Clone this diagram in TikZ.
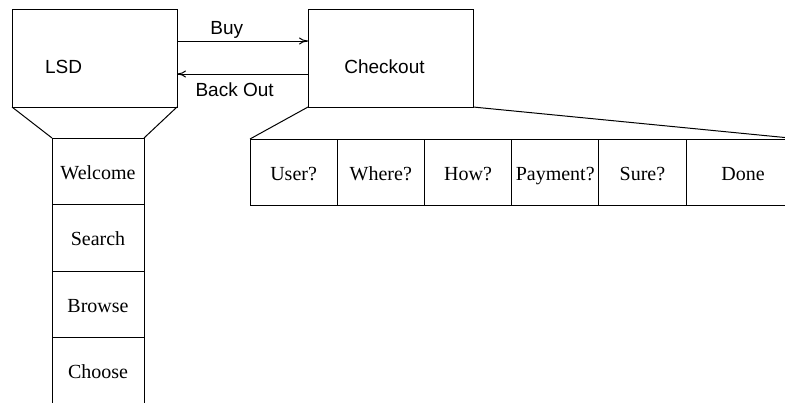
\documentclass[tikz,border=0pt]{standalone}
\usepackage{fontspec}
\setmainfont{Liberation Serif}
\setsansfont{Liberation Sans}
\usetikzlibrary{arrows.meta,positioning}

\tikzset{
  box/.style={draw, rectangle, minimum width=165pt, minimum height=98pt,
    outer sep=0pt, inner sep=0pt, font=\sffamily\fontsize{19}{22}\selectfont},
  page/.style={draw, rectangle, minimum width=92pt, minimum height=66.5pt,
    outer sep=0pt, inner sep=0pt, text height=16pt, text depth=0pt,
    font=\fontsize{20}{22}\selectfont},
  stage/.style={draw, rectangle, minimum width=87.2pt, minimum height=66pt,
    outer sep=0pt, inner sep=0pt, text height=16pt, text depth=0pt,
    font=\fontsize{20}{22}\selectfont},
  tag/.style={font=\sffamily\fontsize{19}{22}\selectfont, inner sep=2pt}
}

\begin{document}
\begin{tikzpicture}[x=1pt, y=-1pt, line width=1pt, >={To[length=9pt,width=7pt]}]
    \useasboundingbox (0,0) rectangle (785,402);
    \clip (0,0) rectangle (785,402);
    %states
    \node[box, label={[tag, xshift=-31pt, yshift=-9pt]center:LSD}] (lsd) at (94.5,58) {};
    \node[box, label={[tag, xshift=-6pt, yshift=-9pt]center:Checkout}] (checkout) at (390.5,58) {};
    %store pages
    \node[page] (welcome) at (98,171.25) {Welcome};
    \node[page, below=0pt of welcome] (search) {Search};
    \node[page, below=0pt of search] (browse) {Browse};
    \node[page, below=0pt of browse] (choose) {Choose};
    %checkout stages
    \node[stage] (user) at (293.6,172) {User?};
    \node[stage, right=0pt of user] (where) {Where?};
    \node[stage, right=0pt of where] (how) {How?};
    \node[stage, right=0pt of how] (payment) {Payment?};
    \node[stage, right=0pt of payment] (sure) {Sure?};
    \node[stage, right=0pt of sure, minimum width=114pt] (done) {Done};
    %edges
    \path[->]
     ([yshift=17pt]lsd.east) edge node[tag, above, pos=0.38] {Buy} ([yshift=17pt]checkout.west)
     ([yshift=-16pt]checkout.west) edge node[tag, below=6pt, pos=0.56] {Back Out} ([yshift=-16pt]lsd.east);
    %expansions
    \draw (lsd.south west) -- (welcome.north west)
          (lsd.south east) -- (welcome.north east);
    \draw (checkout.south west) -- (user.north west)
          (checkout.south east) -- (done.north east);
\end{tikzpicture}
\end{document}
